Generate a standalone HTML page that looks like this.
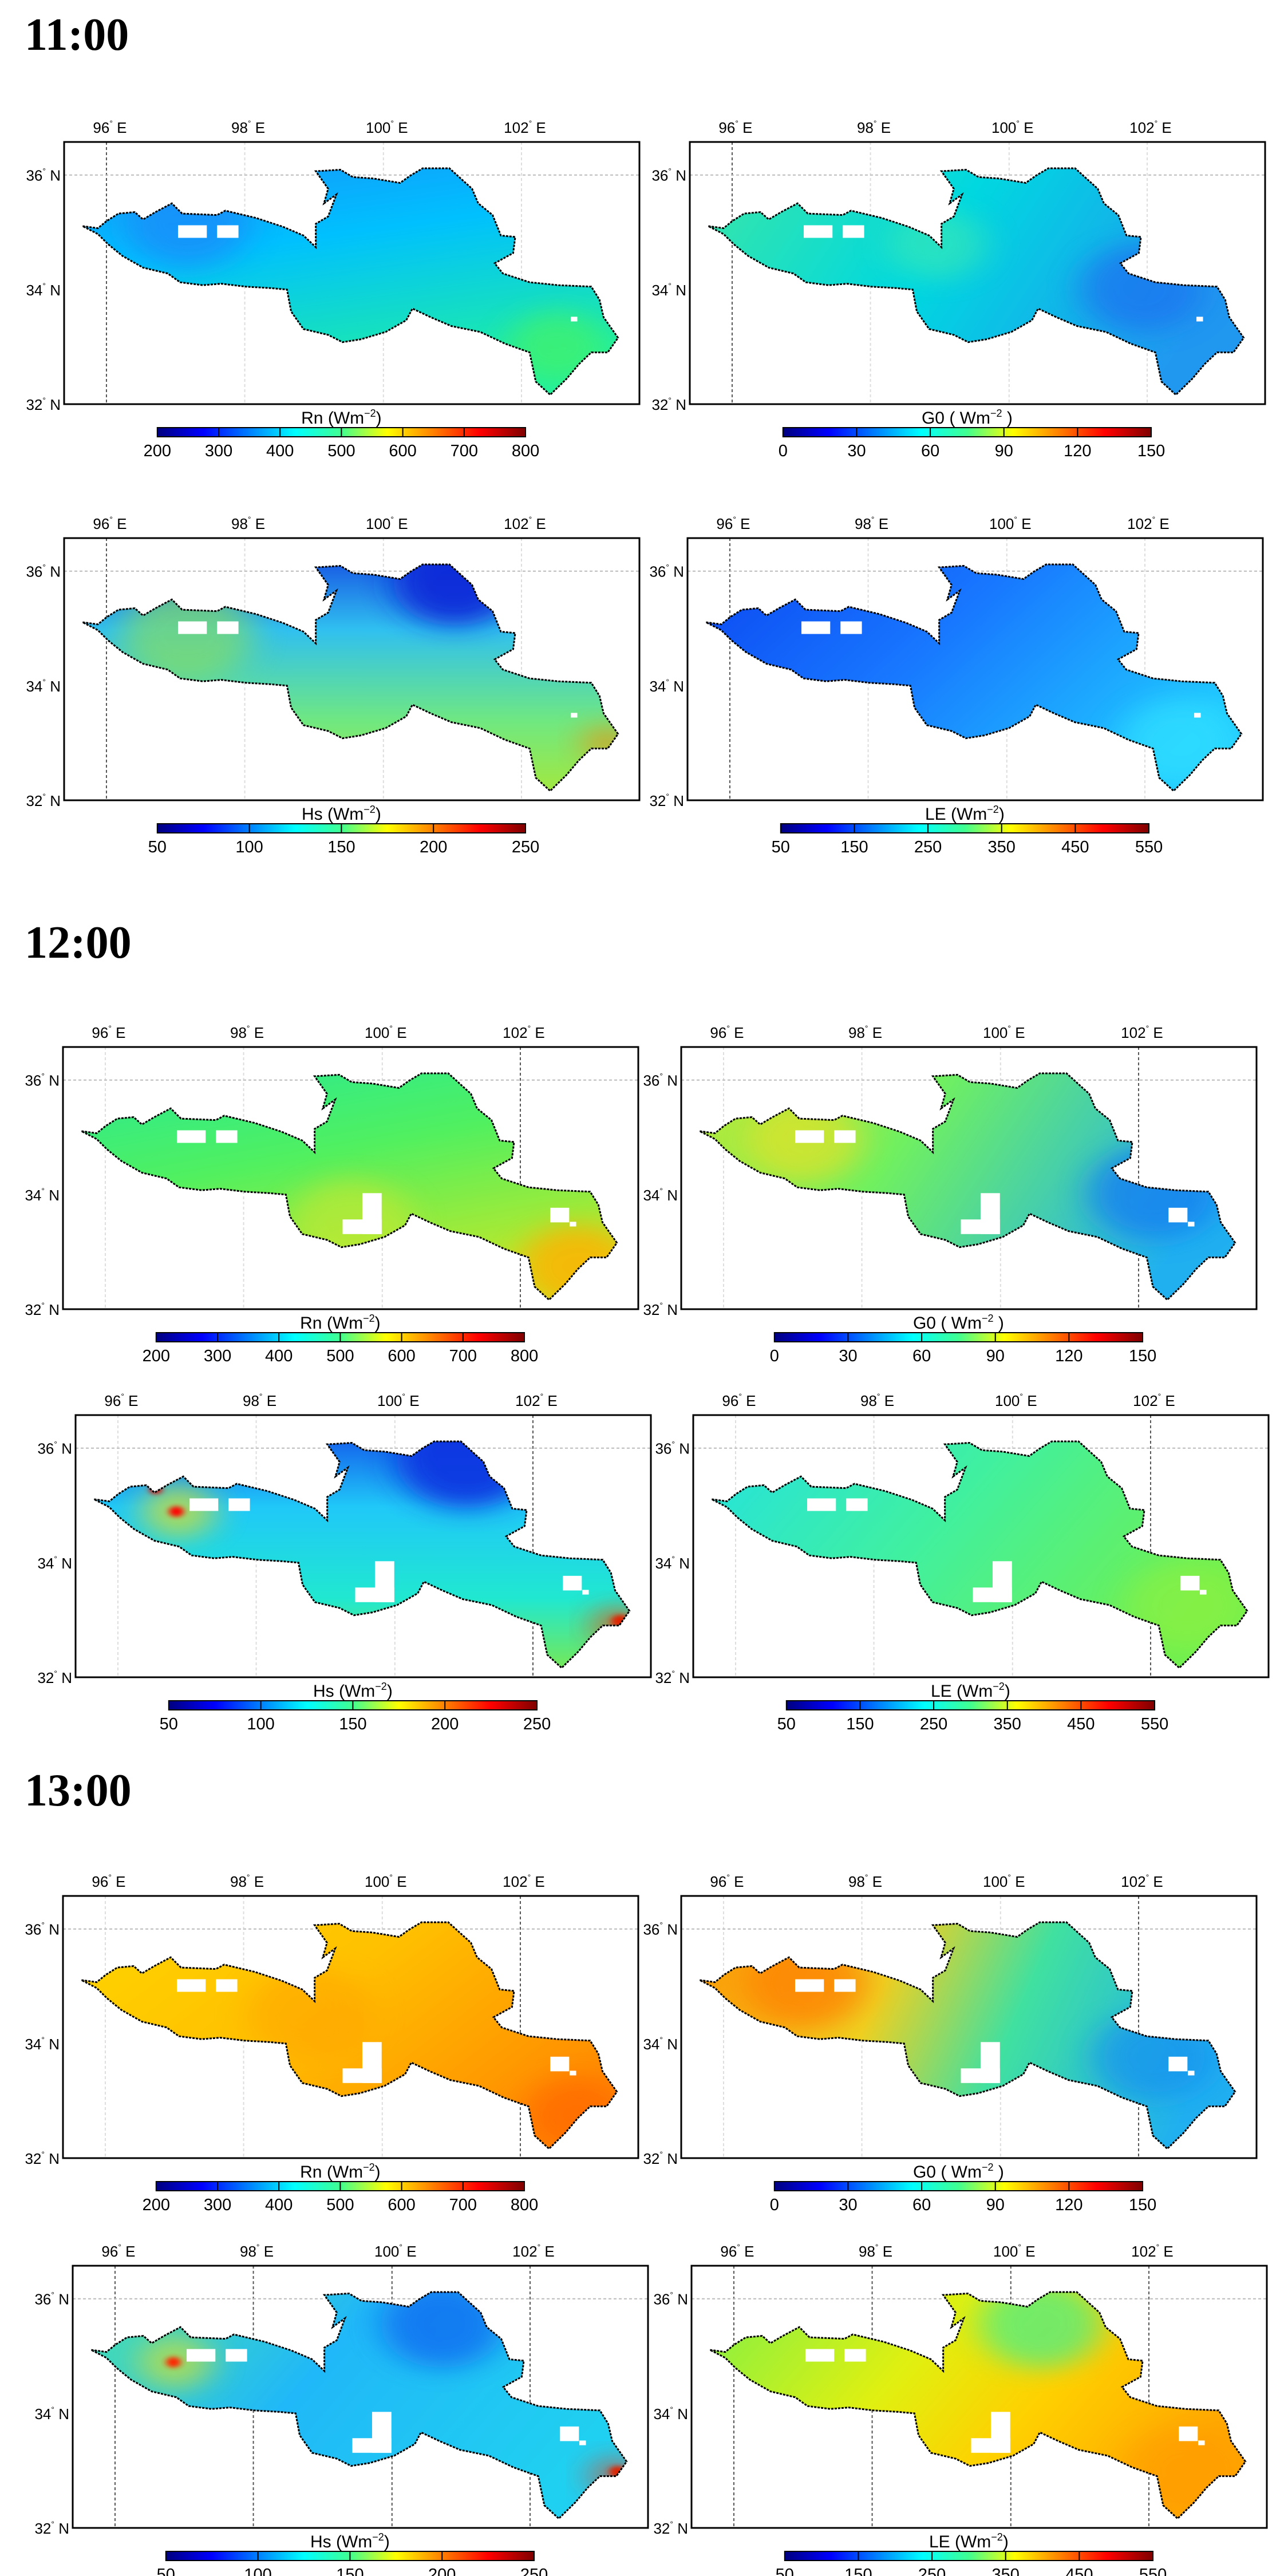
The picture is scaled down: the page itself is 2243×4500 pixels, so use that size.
<!DOCTYPE html>
<html><head><meta charset="utf-8">
<style>
html,body{margin:0;padding:0;background:#fff;}
body{width:2243px;height:4500px;overflow:hidden;position:relative;}
svg{position:absolute;left:0;top:0;}
</style></head>
<body>
<svg id="s" width="2243" height="4500" viewBox="0 0 2243 4500" xmlns="http://www.w3.org/2000/svg" font-family="Liberation Sans, sans-serif"></svg>
<script>
var S=document.getElementById('s');
var out='';
var POLY="45,288 82,295 104,270 132,245 172,240 192,265 222,240 262,210 287,245 372,250 392,235 467,260 532,290 582,320 612,360 612,280 642,255 662,180 632,210 642,160 612,100 672,95 702,120 752,125 817,140 842,115 872,90 937,90 992,160 1007,210 1042,250 1062,320 1097,325 1092,380 1047,415 1067,450 1132,480 1202,490 1282,495 1302,540 1312,600 1347,670 1322,720 1282,720 1252,760 1222,810 1182,865 1147,820 1132,720 1072,690 1012,650 942,630 892,600 847,570 832,610 782,650 722,675 677,685 642,660 582,640 552,580 542,505 502,500 442,495 382,485 337,490 282,480 252,450 192,430 142,390 107,350 82,315";
var JET='<stop offset="0" stop-color="#00007f"/><stop offset="0.125" stop-color="#0000ff"/><stop offset="0.375" stop-color="#00ffff"/><stop offset="0.5" stop-color="#40ff90"/><stop offset="0.625" stop-color="#ffff00"/><stop offset="0.875" stop-color="#ff0000"/><stop offset="1" stop-color="#7f0000"/>';
out+='<defs><linearGradient id="jet" x1="0" y1="0" x2="1" y2="0">'+JET+'</linearGradient><filter id="bl" x="-50%" y="-50%" width="200%" height="200%"><feGaussianBlur stdDeviation="40"/></filter><filter id="bs" x="-50%" y="-50%" width="200%" height="200%"><feGaussianBlur stdDeviation="8"/></filter></defs>';
function T(x,y,t,fs,anchor,weight,fam){return '<text x="'+x+'" y="'+y+'" font-size="'+fs+'"'+(anchor?' text-anchor="'+anchor+'"':'')+(weight?' font-weight="'+weight+'"':'')+(fam?' font-family="'+fam+'"':'')+'>'+t+'</text>';}
[['11:00',87],['12:00',1673],['13:00',3154]].forEach(function(a){out+=T(43,a[1],a[0],80,null,'bold','Liberation Serif, serif');});
var CB={
 Rn:{t:'Rn (Wm<tspan font-size="18" dy="-12">−2</tspan><tspan dy="12">)</tspan>',l:['200','300','400','500','600','700','800']},
 G0:{t:'G0 ( Wm<tspan font-size="18" dy="-12">−2</tspan><tspan dy="12"> )</tspan>',l:['0','30','60','90','120','150']},
 Hs:{t:'Hs (Wm<tspan font-size="18" dy="-12">−2</tspan><tspan dy="12">)</tspan>',l:['50','100','150','200','250']},
 LE:{t:'LE (Wm<tspan font-size="18" dy="-12">−2</tspan><tspan dy="12">)</tspan>',l:['50','150','250','350','450','550']}
};
var rows=[248,940,1829,2472,3312,3958];
var H=458;
var xs=[[112,1205],[112,1201],[110,1190],[132,1211],[110,1190],[127,1208]];
var P=[
 ['Rn',[0,0,0.3,1],[['0','#1a8cf8'],['0.45','#00c0ff'],['1','#20f0a0']],[[1200,700,120,'#40f070',0.8],[300,280,150,'#1a88f8',0.7]],[0],0,[]],
 ['G0',[0,0,1,0.3],[['0','#40e8a0'],['0.5','#00d8e0'],['1','#2098f0']],[[1100,500,150,'#1a70f0',0.7],[600,350,120,'#40e8b0',0.6]],[0],0,[]],
 ['Hs',[0,0,0,1],[['0','#1038e0'],['0.35','#30c0f0'],['0.7','#70e880'],['1','#a8e838']],[[950,150,150,'#0828d8',0.9],[300,330,160,'#90e050',0.6],[1320,700,60,'#ff8000',0.6]],[0],0,[]],
 ['LE',[0,0,1,0.5],[['0','#0a40f0'],['0.5','#1878ff'],['1','#20c8ff']],[[1200,700,150,'#30e0ff',0.7]],[0],0,[]],
 ['Rn',[0,0,0.4,1],[['0','#20e8a0'],['0.5','#50f060'],['1','#c0e828']],[[1250,750,140,'#ffb000',0.8],[700,600,150,'#c8e830',0.6]],[3],1,[]],
 ['G0',[0,0,1,0.3],[['0','#c8e830'],['0.45','#70f060'],['1','#20b0f0']],[[1150,500,160,'#1880f0',0.8],[300,320,140,'#f0e020',0.6]],[3],1,[]],
 ['Hs',[0,0,0,1],[['0','#1040e8'],['0.35','#20c8f8'],['0.7','#20e8d0'],['1','#80e848']],[[950,150,170,'#0830e0',0.9],[250,330,90,'#e0e020',0.7],[1320,720,60,'#ff3000',0.7]],[3],1,[[245,330,18,'#ff0000'],[195,255,15,'#e00000'],[1325,705,22,'#e02000']]],
 ['LE',[0,0,1,0.4],[['0','#20e0e8'],['0.5','#40f0a0'],['1','#70f050']],[[1200,650,150,'#90f040',0.6]],[3],1,[]],
 ['Rn',[0,0,1,0.6],[['0','#ffd800'],['0.5','#ffc000'],['1','#ff8a00']],[[1250,750,130,'#ff6a00',0.8],[600,400,150,'#ffa000',0.5]],[3],1,[]],
 ['G0',[0,0,1,0.2],[['0','#ff9000'],['0.4','#f0d020'],['0.65','#40e0a0'],['1','#20b0f0']],[[300,300,150,'#ff7a00',0.7],[1150,550,150,'#1890f0',0.7]],[3],1,[]],
 ['Hs',[0,0,1,0.4],[['0','#50e8a0'],['0.5','#20b8f8'],['1','#20d0f0']],[[250,330,90,'#d0e030',0.7],[900,200,150,'#1060f0',0.7],[1320,720,60,'#ff3000',0.6]],[0,1,2,3],1,[[245,330,18,'#ff2000'],[1325,705,20,'#e02000']]],
 ['LE',[0,0,1,0.4],[['0','#70f050'],['0.45','#e0f010'],['0.7','#ffd000'],['1','#ffa800']],[[850,200,150,'#40f090',0.7],[1200,700,150,'#ff9a00',0.6]],[0,1,2,3],1,[]]
];
var lonF=[0.0736,0.314,0.555,0.795];
var lonT=['96','98','100','102'];
var latF=[0.126,0.563,1.0],latT=['36','34','32'];
var id=0;
for(var r=0;r<6;r++){for(var c=0;c<2;c++){
 var p=P[r*2+c];id++;
 var bx=xs[r][c],by=rows[r],bw=1005,bh=H;
 for(var i=0;i<4;i++){var lx=bx+lonF[i]*bw;
  out+=T(lx+6,by-16,lonT[i]+'<tspan font-size="14" dy="-12">°</tspan><tspan dy="12"> E</tspan>',26,'middle');
  var dark=p[4].indexOf(i)>=0;
  out+='<line x1="'+lx+'" y1="'+by+'" x2="'+lx+'" y2="'+(by+bh)+'" stroke="'+(dark?'#555':'#ddd')+'" stroke-width="2" stroke-dasharray="5 4"/>';}
 out+='<line x1="'+bx+'" y1="'+(by+latF[0]*bh)+'" x2="'+(bx+bw)+'" y2="'+(by+latF[0]*bh)+'" stroke="#bbb" stroke-width="2" stroke-dasharray="5 4"/>';
 for(var i=0;i<3;i++){out+=T(bx-6,by+latF[i]*bh+10,latT[i]+'<tspan font-size="14" dy="-12">°</tspan><tspan dy="12"> N</tspan>',26,'end');}
 out+='<svg x="'+bx+'" y="'+by+'" width="'+bw+'" height="'+bh+'" viewBox="0 0 1399 897" preserveAspectRatio="none">';
 var g=p[1];
 out+='<defs><clipPath id="c'+id+'"><polygon points="'+POLY+'"/></clipPath><linearGradient id="g'+id+'" x1="'+g[0]+'" y1="'+g[1]+'" x2="'+g[2]+'" y2="'+g[3]+'">';
 p[2].forEach(function(s){out+='<stop offset="'+s[0]+'" stop-color="'+s[1]+'"/>';});
 out+='</linearGradient></defs><g clip-path="url(#c'+id+')"><rect x="0" y="0" width="1399" height="897" fill="url(#g'+id+')"/>';
 p[3].forEach(function(b){out+='<circle cx="'+b[0]+'" cy="'+b[1]+'" r="'+b[2]+'" fill="'+b[3]+'" opacity="'+b[4]+'" filter="url(#bl)"/>';});
 p[6].forEach(function(b){out+='<circle cx="'+b[0]+'" cy="'+b[1]+'" r="'+b[2]+'" fill="'+b[3]+'" filter="url(#bs)"/>';});
 out+='</g>';
 out+='<rect x="277" y="285" width="70" height="43" fill="#fff"/><rect x="372" y="285" width="52" height="43" fill="#fff"/><rect x="1232" y="598" width="16" height="16" fill="#fff"/>';
 if(p[5]){out+='<rect x="728" y="500" width="47" height="140" fill="#fff"/><rect x="680" y="590" width="95" height="50" fill="#fff"/><rect x="1185" y="550" width="46" height="50" fill="#fff"/>';}
 out+='<polygon points="'+POLY+'" fill="none" stroke="#000" stroke-width="3" stroke-dasharray="4 2" vector-effect="non-scaling-stroke"/></svg>';
 out+='<rect x="'+bx+'" y="'+by+'" width="'+bw+'" height="'+bh+'" fill="none" stroke="#000" stroke-width="3"/>';
 var cb=CB[p[0]];var cx0=bx+0.162*bw,cx1=bx+0.802*bw,cy=by+bh+41;
 out+=T((cx0+cx1)/2,by+bh+34,cb.t,30,'middle');
 out+='<rect x="'+cx0+'" y="'+cy+'" width="'+(cx1-cx0)+'" height="16" fill="url(#jet)" stroke="#000" stroke-width="2"/>';
 var n=cb.l.length-1;
 for(var k=0;k<=n;k++){var tx=cx0+(cx1-cx0)*k/n;
  if(k>0&&k<n)out+='<line x1="'+tx+'" y1="'+cy+'" x2="'+tx+'" y2="'+(cy+16)+'" stroke="#000" stroke-width="2"/>';
  out+=T(tx,cy+50,cb.l[k],29,'middle');}
}}
S.innerHTML=out;
</script>
</body></html>
